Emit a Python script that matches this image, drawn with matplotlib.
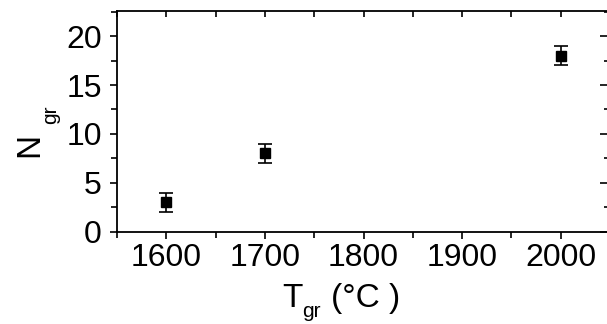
import matplotlib
matplotlib.use("Agg")
import matplotlib.pyplot as plt
from matplotlib.ticker import MultipleLocator

# data
temps = [1600, 1700, 2000]
n_gr = [3, 8, 18]
n_err = [1, 1, 1]

plt.rcParams['font.family'] = ['Liberation Sans', 'DejaVu Sans']

W, H = 607, 324
fig = plt.figure(figsize=(W / 100, H / 100), dpi=100)
# axes run a bit past the right edge, as in the cropped original
ax = fig.add_axes([117 / W, (H - 231.7) / H, 494 / W, 221 / H])

ax.errorbar(temps, n_gr, yerr=n_err, fmt='s', color='black', ms=6.5,
            capsize=4.7, elinewidth=1.2, capthick=1.2)

ax.set_xlim(1550, 2051)
ax.set_ylim(0, 22.6)
ax.xaxis.set_major_locator(MultipleLocator(100))
ax.xaxis.set_minor_locator(MultipleLocator(50))
ax.yaxis.set_major_locator(MultipleLocator(5))
ax.yaxis.set_minor_locator(MultipleLocator(2.5))

for s in ax.spines.values():
    s.set_linewidth(1.3)
ax.spines['right'].set_visible(False)  # falls outside the crop anyway

ax.tick_params(which='both', direction='out', labelsize=23, width=1.2,
               top=False, right=False)
ax.tick_params(which='major', length=5)
ax.tick_params(which='minor', length=4)
ax.tick_params(axis='x', pad=3)
ax.tick_params(axis='y', pad=6)

# mirrored ticks pointing inward on top and right (twin axes, no spines)
axt = ax.twiny()
axt.set_xlim(ax.get_xlim())
axt.xaxis.set_major_locator(MultipleLocator(100))
axt.xaxis.set_minor_locator(MultipleLocator(50))
axt.tick_params(which='both', direction='in', labeltop=False, width=1.2, length=4)
axr = ax.twinx()
axr.set_ylim(ax.get_ylim())
axr.yaxis.set_major_locator(MultipleLocator(5))
axr.yaxis.set_minor_locator(MultipleLocator(2.5))
axr.tick_params(which='major', direction='in', labelright=False, width=1.2, length=8)
axr.tick_params(which='minor', direction='in', labelright=False, width=1.2, length=5)
for a in (axt, axr):
    for s in a.spines.values():
        s.set_visible(False)

# y label: N with subscript gr, rotated
fig.text(29.5 / W, 1 - 145 / H, 'N', rotation=90, fontsize=24,
         ha='center', va='center')
fig.text(51 / W, 1 - 115 / H, 'gr', rotation=90, fontsize=15,
         ha='center', va='center')

# x label: T with subscript gr, then unit
fig.text(282 / W, 1 - 307 / H, 'T', fontsize=24, ha='left', va='baseline')
fig.text(302 / W, 1 - 317 / H, 'gr', fontsize=15, ha='left', va='baseline')
fig.text(331 / W, 1 - 307 / H, '(°C )', fontsize=24, ha='left', va='baseline')

fig.savefig('out.png', dpi=100)
